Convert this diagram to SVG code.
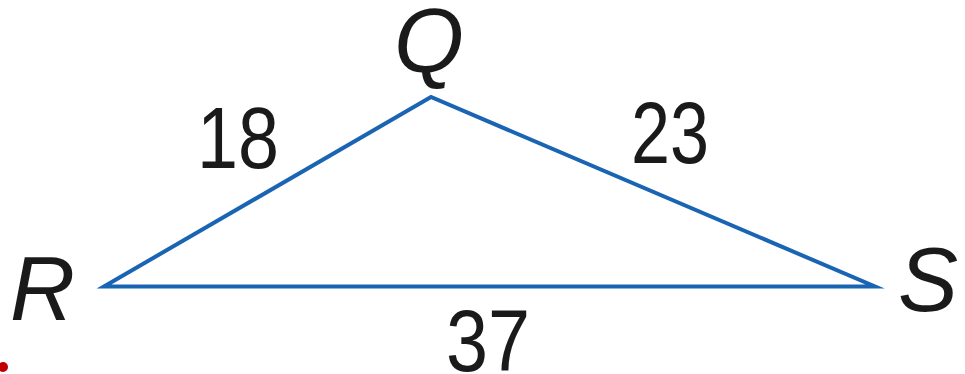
<svg xmlns="http://www.w3.org/2000/svg" width="965" height="374" viewBox="0 0 965 374">
<style>
.lbl{font-family:"Liberation Sans",Arial,sans-serif;fill:#1a1a1a}
.v{font-size:90px;font-style:italic}
.n{font-size:88px}
.edge{fill:none;stroke:#1a64b4;stroke-width:4;stroke-linejoin:miter;stroke-miterlimit:10}
</style>
<rect width="965" height="374" fill="#fff"/>
<g id="connectors">
<polygon class="edge" points="104,286.5 431,97 875,286.5"/>
</g>
<g id="node-Q"><text class="lbl v" x="394" y="72">Q</text></g>
<g id="node-R"><text class="lbl v" x="10" y="320">R</text></g>
<g id="node-S"><text class="lbl v" x="898" y="311">S</text></g>
<g id="label-18"><text class="lbl n" x="197" y="168" textLength="82" lengthAdjust="spacingAndGlyphs">18</text></g>
<g id="label-23"><text class="lbl n" x="631" y="163" textLength="78" lengthAdjust="spacingAndGlyphs">23</text></g>
<g id="label-37"><text class="lbl n" x="446" y="371" textLength="84" lengthAdjust="spacingAndGlyphs">37</text></g>
<circle cx="3" cy="367" r="5" fill="#c00000"/>
</svg>
